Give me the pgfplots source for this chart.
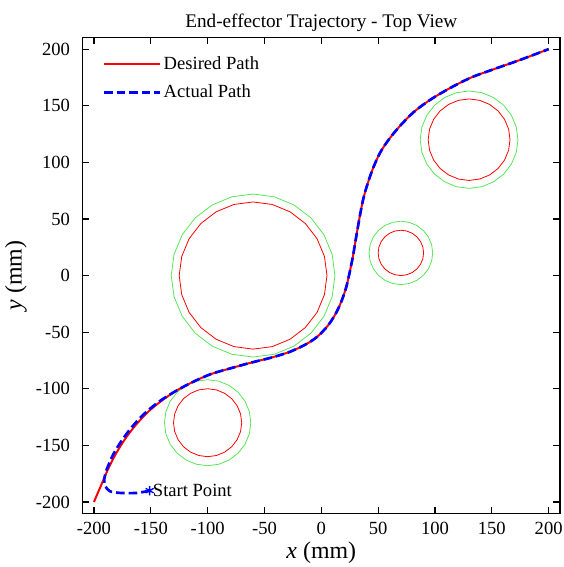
\documentclass[border=0pt]{standalone}
\usepackage{pgfplots}
\usepackage{pgfplotstable}
\pgfplotsset{compat=1.18}
\usepackage{fontspec}
\setmainfont{Liberation Serif}
\definecolor{mgreen}{rgb}{0.35,0.9,0.35}

\pgfplotstableread{
x y
1.0000 0.0000
0.9659 0.2588
0.8660 0.5000
0.7071 0.7071
0.5000 0.8660
0.2588 0.9659
0.0000 1.0000
-0.2588 0.9659
-0.5000 0.8660
-0.7071 0.7071
-0.8660 0.5000
-0.9659 0.2588
-1.0000 0.0000
-0.9659 -0.2588
-0.8660 -0.5000
-0.7071 -0.7071
-0.5000 -0.8660
-0.2588 -0.9659
0.0000 -1.0000
0.2588 -0.9659
0.5000 -0.8660
0.7071 -0.7071
0.8660 -0.5000
0.9659 -0.2588
1.0000 0.0000
}\unitcircle

\pgfplotstableread{
x y
-200 -200
-194 -186
-188 -172
-181 -158
-173 -145
-164 -133
-153 -121
-141 -111
-128 -102
-113 -94
-97 -87
-80 -82
-62 -77
-44 -72.5
-28 -67.5
-14 -61
-3.5 -54
6 -44
13 -33
18 -22
22 -10
25 3
28 18
31 36
34 53
37 68
41 82
46 96
52 109
60 121
70 133
82 145
97 156
114 166
132 175
151 182
175 190.5
200 200
}\desired

\pgfplotstableread{
x y
-151 -190
-162 -192
-177 -192
-186 -190.5
-190 -186
-191 -181
-189 -172
-183 -158
-175 -145
-165.5 -132.5
-154 -120.5
-141.5 -110.5
-128 -102
-113 -94
-97 -87
-80 -82
-62 -77
-44 -72.5
-28 -67.5
-14 -61
-3.5 -54
6 -44
13 -33
18 -22
22 -10
25 3
28 18
31 36
34 53
37 68
41 82
46 96
52 109
60 121
70 133
82 145
97 156
114 166
132 175
151 182
175 190.5
200 200
}\actual

\begin{document}
\begin{tikzpicture}
\begin{axis}[
  width=360pt, height=358.5pt, scale only axis,
  xmin=-210, xmax=210, ymin=-210, ymax=210,
  xtick={-200,-150,...,200}, ytick={-200,-150,...,200},
  tick align=inside, xtick pos=both, ytick pos=both, major tick length=5pt,
  every tick/.style={black, line width=0.9pt},
  axis line style={line width=1pt},
  /pgf/number format/assume math mode=true,
  ticklabel style={font=\fontsize{14}{16}\selectfont},
  xticklabel style={yshift=-3pt},
  yticklabel style={xshift=-6pt},
  xlabel={\textit{x} (mm)}, ylabel={\textit{y} (mm)},
  label style={font=\fontsize{18}{20}\selectfont},
  xlabel style={yshift=1pt},
  title={End-effector Trajectory - Top View},
  title style={font=\fontsize{14.5}{16}\selectfont, yshift=-5pt},
  legend style={draw=none, fill=none, at={(0,1)}, anchor=north west,
    xshift=12pt, yshift=-10pt, font=\fontsize{14}{16}\selectfont,
    row sep=6pt, cells={anchor=west}},
  legend image code/.code={\draw[#1] (0pt,0pt) -- (42pt,0pt);},
]
% obstacles
\addplot[red, line width=0.6pt, forget plot] table[x expr=\thisrow{x}*65-60, y expr=\thisrow{y}*65] {\unitcircle};
\addplot[mgreen, line width=0.6pt, forget plot] table[x expr=\thisrow{x}*72-60, y expr=\thisrow{y}*72] {\unitcircle};
\addplot[red, line width=0.6pt, forget plot] table[x expr=\thisrow{x}*36+130, y expr=\thisrow{y}*36+120] {\unitcircle};
\addplot[mgreen, line width=0.6pt, forget plot] table[x expr=\thisrow{x}*43+130, y expr=\thisrow{y}*43+120] {\unitcircle};
\addplot[red, line width=0.6pt, forget plot] table[x expr=\thisrow{x}*20+70, y expr=\thisrow{y}*20+20] {\unitcircle};
\addplot[mgreen, line width=0.6pt, forget plot] table[x expr=\thisrow{x}*28+70, y expr=\thisrow{y}*28+20] {\unitcircle};
\addplot[red, line width=0.6pt, forget plot] table[x expr=\thisrow{x}*30-100, y expr=\thisrow{y}*30-130] {\unitcircle};
\addplot[mgreen, line width=0.6pt, forget plot] table[x expr=\thisrow{x}*38-100, y expr=\thisrow{y}*38-130] {\unitcircle};
% paths
\addplot[red, line width=1.5pt, smooth, tension=0.5] table {\desired};
\addlegendentry{Desired Path}
\addplot[blue, line width=2pt, dash pattern=on 6.5pt off 3pt, smooth, tension=0.5] table {\actual};
\addlegendentry{Actual Path}
\addplot[blue, only marks, mark=asterisk, mark size=3.5pt, line width=1pt, forget plot] coordinates {(-151,-190)}
  node[right, black, inner sep=2pt, font=\fontsize{14}{16}\selectfont] {Start Point};
\end{axis}
\pgfresetboundingbox
\path[use as bounding box] ([shift={(-62.25pt,-40.5pt)}]current axis.south west) rectangle ([shift={(2.25pt,28.5pt)}]current axis.north east);
\end{tikzpicture}
\end{document}
